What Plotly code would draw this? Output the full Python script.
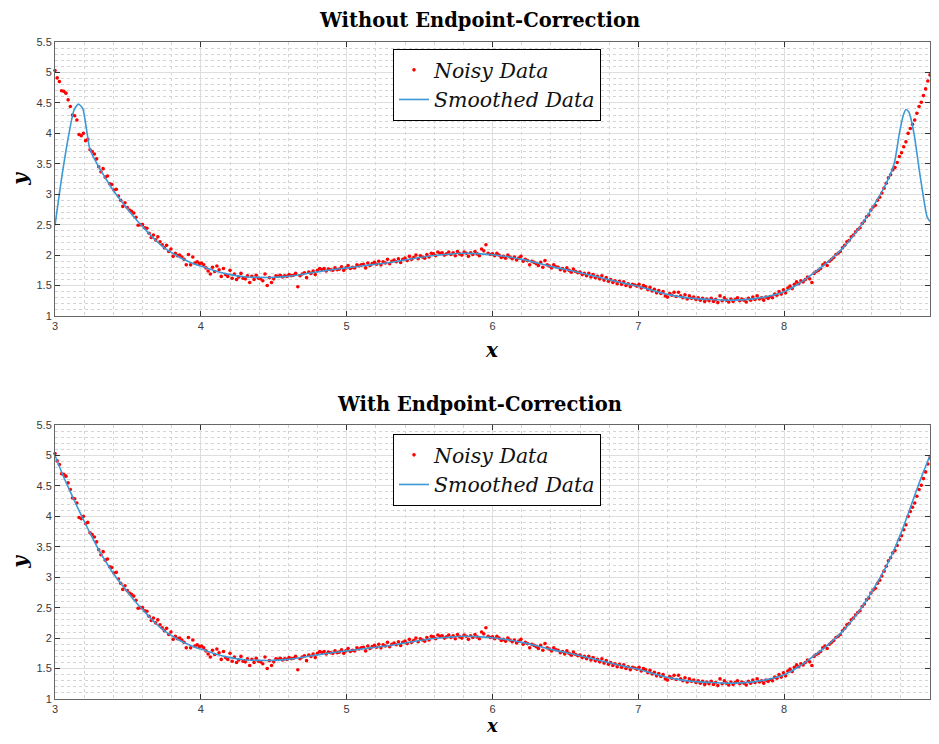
import numpy as np
import plotly.graph_objects as go

# ---------------- data ----------------
x_start, x_end = 3.0, 9.0

noisy_y = [
    5.03, 4.91, 4.85, 4.70, 4.69, 4.66, 4.55, 4.44, 4.30, 4.29,
    4.22, 3.98, 3.96, 4.00, 3.88, 3.90, 3.73, 3.70, 3.66, 3.58,
    3.45, 3.37, 3.42, 3.28, 3.30, 3.17, 3.16, 3.07, 3.08, 2.97,
    2.90, 2.80, 2.86, 2.78, 2.74, 2.72, 2.69, 2.62, 2.49, 2.50,
    2.50, 2.45, 2.44, 2.36, 2.29, 2.33, 2.25, 2.30, 2.22, 2.17,
    2.12, 2.16, 2.06, 2.10, 1.98, 2.03, 1.99, 2.00, 1.97, 1.93,
    1.84, 2.01, 1.84, 1.97, 1.87, 1.89, 1.86, 1.87, 1.84, 1.79,
    1.74, 1.69, 1.80, 1.73, 1.82, 1.76, 1.65, 1.78, 1.68, 1.65,
    1.75, 1.62, 1.69, 1.60, 1.64, 1.70, 1.62, 1.61, 1.66, 1.55,
    1.65, 1.60, 1.67, 1.62, 1.61, 1.58, 1.69, 1.50, 1.63, 1.55,
    1.61, 1.66, 1.65, 1.67, 1.64, 1.66, 1.65, 1.68, 1.66, 1.67,
    1.70, 1.48, 1.66, 1.69, 1.71, 1.63, 1.72, 1.70, 1.74, 1.68,
    1.75, 1.78, 1.76, 1.78, 1.74, 1.77, 1.76, 1.75, 1.79, 1.76,
    1.77, 1.81, 1.75, 1.79, 1.83, 1.78, 1.80, 1.79, 1.84, 1.82,
    1.84, 1.85, 1.79, 1.87, 1.83, 1.86, 1.88, 1.85, 1.90, 1.84,
    1.89, 1.87, 1.93, 1.86, 1.90, 1.92, 1.89, 1.94, 1.88, 1.93,
    1.95, 1.91, 1.98, 1.93, 1.96, 2.00, 1.94, 1.99, 1.97, 1.95,
    2.01, 1.97, 2.03, 2.02, 1.99, 2.05, 2.03, 2.04, 2.00, 2.02,
    2.05, 2.01, 2.04, 1.99, 2.06, 2.02, 2.00, 2.05, 2.03, 1.98,
    2.04, 2.01, 2.06, 2.02, 1.99, 2.10, 2.07, 2.17, 2.03, 2.01,
    2.02, 1.99, 2.03, 2.00, 1.96, 1.98, 1.95, 2.00, 1.97, 1.94,
    1.97, 1.92, 1.95, 1.98, 1.90, 1.93, 1.91, 1.84, 1.90, 1.88,
    1.86, 1.83, 1.88, 1.80, 1.91, 1.84, 1.82, 1.79, 1.84, 1.81,
    1.80, 1.76, 1.78, 1.74, 1.79, 1.75, 1.72, 1.77, 1.73, 1.71,
    1.72, 1.68, 1.70, 1.66, 1.70, 1.64, 1.68, 1.63, 1.65, 1.61,
    1.66, 1.59, 1.63, 1.57, 1.60, 1.55, 1.58, 1.53, 1.57, 1.52,
    1.56, 1.50, 1.53, 1.48, 1.52, 1.51, 1.49, 1.52, 1.46, 1.50,
    1.48, 1.43, 1.47, 1.41, 1.44, 1.38, 1.42, 1.37, 1.40, 1.33,
    1.31, 1.37, 1.34, 1.39, 1.32, 1.39, 1.33, 1.30, 1.35, 1.28,
    1.33, 1.29, 1.31, 1.27, 1.30, 1.26, 1.29, 1.24, 1.28, 1.25,
    1.29, 1.24, 1.27, 1.22, 1.33, 1.25, 1.30, 1.26, 1.23, 1.28,
    1.24, 1.27, 1.30, 1.25, 1.28, 1.26, 1.23, 1.29, 1.26, 1.31,
    1.27, 1.33, 1.28, 1.30, 1.26, 1.31, 1.29, 1.32, 1.30, 1.36,
    1.34, 1.40, 1.36, 1.43, 1.38, 1.46, 1.49, 1.45, 1.52, 1.56,
    1.53, 1.58, 1.56, 1.60, 1.64, 1.61, 1.55, 1.70, 1.73, 1.75,
    1.78, 1.84, 1.87, 1.83, 1.90, 1.93, 1.96, 2.01, 2.03, 2.06,
    2.12, 2.16, 2.22, 2.24, 2.30, 2.33, 2.38, 2.42, 2.45, 2.52,
    2.56, 2.63, 2.66, 2.74, 2.79, 2.82, 2.90, 2.95, 3.02, 3.10,
    3.18, 3.27, 3.32, 3.40, 3.44, 3.52, 3.62, 3.68, 3.78, 3.86,
    4.00, 4.08, 4.15, 4.22, 4.33, 4.44, 4.51, 4.62, 4.73, 4.86,
    4.96,
]
noisy_x = np.linspace(x_start, x_end, len(noisy_y))

# smoothed curve with endpoint correction
smooth_x = [3.00, 3.05, 3.10, 3.15, 3.20, 3.25, 3.30, 3.35, 3.40, 3.45,
            3.50, 3.55, 3.60, 3.65, 3.70, 3.75, 3.80, 3.85, 3.90, 3.95,
            4.00, 4.10, 4.20, 4.30, 4.40, 4.50, 4.60, 4.70, 4.80, 4.90,
            5.00, 5.10, 5.20, 5.30, 5.40, 5.50, 5.60, 5.70, 5.80, 5.90,
            6.00, 6.10, 6.20, 6.30, 6.40, 6.50, 6.60, 6.70, 6.80, 6.90,
            7.00, 7.10, 7.20, 7.30, 7.40, 7.50, 7.60, 7.70, 7.80, 7.90,
            8.00, 8.10, 8.20, 8.30, 8.40, 8.50, 8.60, 8.70, 8.75, 8.80,
            8.85, 8.90, 8.95, 9.00]
smooth_y = [5.00, 4.70, 4.43, 4.17, 3.92, 3.68, 3.45, 3.25, 3.06, 2.90,
            2.75, 2.60, 2.47, 2.34, 2.22, 2.12, 2.04, 1.97, 1.91, 1.86,
            1.82, 1.74, 1.68, 1.645, 1.635, 1.635, 1.65, 1.685, 1.725, 1.76,
            1.79, 1.82, 1.85, 1.88, 1.92, 1.96, 1.995, 2.015, 2.03, 2.025,
            2.005, 1.975, 1.93, 1.875, 1.815, 1.765, 1.71, 1.655, 1.595, 1.54,
            1.49, 1.42, 1.355, 1.31, 1.285, 1.27, 1.26, 1.265, 1.285, 1.33,
            1.40, 1.53, 1.70, 1.89, 2.11, 2.40, 2.76, 3.18, 3.43, 3.72,
            4.04, 4.38, 4.70, 5.00]

# smoothed curve without endpoint correction (edge artefacts)
raw_x = [3.00, 3.05, 3.10, 3.13, 3.16, 3.19, 3.21, 3.235, 3.25, 3.30,
         3.35, 3.40, 3.45, 3.50, 3.55, 3.60, 3.65, 3.70, 3.75, 3.80,
         3.85, 3.90, 3.95, 4.00, 4.10, 4.20, 4.30, 4.40, 4.50, 4.60,
         4.70, 4.80, 4.90, 5.00, 5.10, 5.20, 5.30, 5.40, 5.50, 5.60,
         5.70, 5.80, 5.90, 6.00, 6.10, 6.20, 6.30, 6.40, 6.50, 6.60,
         6.70, 6.80, 6.90, 7.00, 7.10, 7.20, 7.30, 7.40, 7.50, 7.60,
         7.70, 7.80, 7.90, 8.00, 8.10, 8.20, 8.30, 8.40, 8.50, 8.60,
         8.70, 8.755, 8.79, 8.815, 8.835, 8.855, 8.89, 8.93, 8.98, 9.00]
raw_y = [2.49, 3.34, 4.05, 4.38, 4.48, 4.41, 4.16, 3.78, 3.68, 3.45,
         3.25, 3.06, 2.90, 2.75, 2.60, 2.47, 2.34, 2.22, 2.12, 2.04,
         1.97, 1.91, 1.86, 1.82, 1.74, 1.68, 1.645, 1.635, 1.635, 1.65,
         1.685, 1.725, 1.76, 1.79, 1.82, 1.85, 1.88, 1.92, 1.96, 1.995,
         2.015, 2.03, 2.025, 2.005, 1.975, 1.93, 1.875, 1.815, 1.765, 1.71,
         1.655, 1.595, 1.54, 1.49, 1.42, 1.355, 1.31, 1.285, 1.27, 1.26,
         1.265, 1.285, 1.33, 1.40, 1.53, 1.70, 1.89, 2.11, 2.40, 2.76,
         3.18, 3.51, 4.00, 4.28, 4.39, 4.35, 4.00, 3.34, 2.63, 2.55]

titles = ["Without Endpoint-Correction", "With Endpoint-Correction"]
x_label = "x"
y_label = "y"
y_ticks = [1, 1.5, 2, 2.5, 3, 3.5, 4, 4.5, 5, 5.5]
x_ticks = [3, 4, 5, 6, 7, 8, 9]

# ---------------- styling ----------------
RED = "#ff0000"
BLUE = "#3d98d6"
SERIF = "DejaVu Serif"
SANS = "Liberation Sans"

# the page body has an 8px margin: the figure sits at (8, 8) in the window
# and stays inside the body so nothing is clipped or scrolled.
PAGE_OFF = 8
W, H = 939 - 2 * PAGE_OFF, 744 - 2 * PAGE_OFF
PLOT_R = 930                # window x of the plot's right edge (x = 9)
ML = 55 - PAGE_OFF          # plot left edge at window x=55
MR = W - (PLOT_R - PAGE_OFF)
MT = 42 - PAGE_OFF          # top panel top at window y=42
MB = H - (699 - PAGE_OFF)   # bottom panel bottom at window y=699
plot_w = W - ML - MR
plot_h = H - MT - MB


def frac(px):
    """window y pixel -> paper fraction"""
    return 1 - (px - 42) / plot_h


def xfrac(px):
    """window x pixel -> paper fraction"""
    return (px - 55) / plot_w


fig = go.Figure()

panels = [
    dict(xs=raw_x, ys=raw_y, xa="x", ya="y", leg="legend"),
    dict(xs=smooth_x, ys=smooth_y, xa="x2", ya="y2", leg="legend2"),
]
for p in panels:
    fig.add_trace(go.Scatter(
        x=noisy_x, y=noisy_y, mode="markers", name="<i>Noisy Data</i>",
        marker=dict(color=RED, size=3.6, line=dict(width=0)),
        xaxis=p["xa"], yaxis=p["ya"], legend=p["leg"], cliponaxis=False))
    fig.add_trace(go.Scatter(
        x=p["xs"], y=p["ys"], mode="lines", name="<i>Smoothed Data</i>",
        line=dict(color=BLUE, width=1.6, shape="spline", smoothing=0.6),
        xaxis=p["xa"], yaxis=p["ya"], legend=p["leg"]))


def xaxis(anchor):
    return dict(
        anchor=anchor, domain=[0, 1], range=[x_start, x_end],
        automargin=False,
        tickvals=x_ticks, ticktext=[str(v) for v in x_ticks],
        showgrid=True, gridcolor="#dedede", gridwidth=1,
        minor=dict(dtick=0.2, tick0=3, showgrid=True, gridcolor="#d4d4d4",
                   griddash="dot", gridwidth=1),
        ticks="inside", ticklen=5, tickcolor="#333",
        showline=True, linecolor="#666", linewidth=1, mirror="ticks",
        zeroline=False,
        tickfont=dict(family=SANS, size=11, color="#3a3a3a"),
    )


def yaxis(anchor, dom):
    return dict(
        anchor=anchor, domain=dom, range=[1, 5.5],
        automargin=False,
        tickvals=y_ticks, ticktext=[f"{v:g}" for v in y_ticks],
        showgrid=True, gridcolor="#dedede", gridwidth=1,
        minor=dict(dtick=0.1, tick0=1, showgrid=True, gridcolor="#d4d4d4",
                   griddash="dot", gridwidth=1),
        ticks="inside", ticklen=5, tickcolor="#333",
        showline=True, linecolor="#666", linewidth=1, mirror="ticks",
        zeroline=False,
        tickfont=dict(family=SANS, size=11, color="#3a3a3a"),
        title=dict(text=f"<b><i>{y_label}</i></b>",
                   font=dict(family=SERIF, size=20, color="#000"), standoff=13),
    )


def legend(top_px):
    return dict(
        x=xfrac(393), y=frac(top_px),
        xanchor="left", yanchor="top",
        bgcolor="white", bordercolor="#000", borderwidth=1,
        font=dict(family=SERIF, size=20.5, color="#111"),
        tracegroupgap=0, itemsizing="trace", itemwidth=30,
    )


def text_ann(text, xpx, ypx, size):
    return dict(text=text, xref="paper", yref="paper",
                x=xfrac(xpx), y=frac(ypx), xanchor="center", yanchor="middle",
                showarrow=False, font=dict(family=SERIF, size=size, color="#000"))


fig.update_layout(
    width=W, height=H,
    margin=dict(l=ML, r=MR, t=MT, b=MB, autoexpand=False),
    paper_bgcolor="white", plot_bgcolor="white",
    showlegend=True,
    xaxis=xaxis("y"),
    yaxis=yaxis("x", [frac(316), 1]),
    xaxis2=xaxis("y2"),
    yaxis2=yaxis("x2", [0, frac(425)]),
    legend=legend(49),
    legend2=legend(434),
    annotations=[
        text_ann(f"<b>{titles[0]}</b>", 479, 20, 19.5),
        text_ann(f"<b>{titles[1]}</b>", 479, 404, 19.5),
        text_ann(f"<b><i>{x_label}</i></b>", 492, 350, 20),
        text_ann(f"<b><i>{x_label}</i></b>", 492, 725, 18),
    ],
)

fig.write_html("out.html")
